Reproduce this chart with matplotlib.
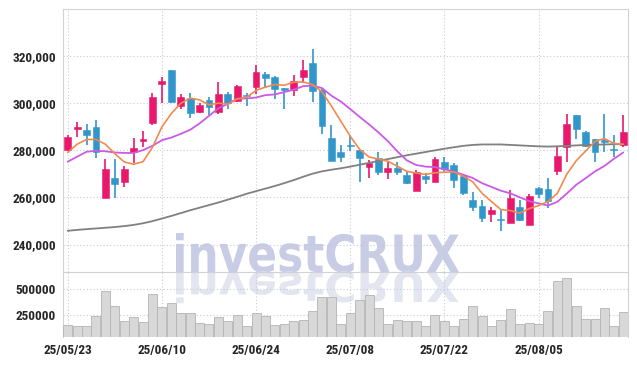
import os
import matplotlib
matplotlib.use('Agg')
import matplotlib.pyplot as plt
import numpy as np
from matplotlib.textpath import TextPath
from matplotlib.patches import PathPatch
from matplotlib.font_manager import FontProperties
from matplotlib import font_manager as fm
from matplotlib.transforms import Affine2D

# ---------------- data (prices in thousands of KRW) ----------------
dates = ["25/05/23", "25/05/26", "25/05/27", "25/05/28", "25/05/29", "25/05/30",
         "25/06/02", "25/06/04", "25/06/05", "25/06/09", "25/06/10", "25/06/11",
         "25/06/12", "25/06/13", "25/06/16", "25/06/17", "25/06/18", "25/06/19",
         "25/06/20", "25/06/23", "25/06/24", "25/06/25", "25/06/26", "25/06/27",
         "25/06/30", "25/07/01", "25/07/02", "25/07/03", "25/07/04", "25/07/07",
         "25/07/08", "25/07/09", "25/07/10", "25/07/11", "25/07/14", "25/07/15",
         "25/07/16", "25/07/17", "25/07/18", "25/07/21", "25/07/22", "25/07/23",
         "25/07/24", "25/07/25", "25/07/28", "25/07/29", "25/07/30", "25/07/31",
         "25/08/01", "25/08/04", "25/08/05", "25/08/06", "25/08/07", "25/08/08",
         "25/08/11", "25/08/12", "25/08/13", "25/08/14", "25/08/18", "25/08/19"]

opens = [280.0, 289.0, 288.4, 289.7, 259.9, 268.2, 266.6, 279.0, 283.9, 291.3,
         308.0, 313.8, 298.6, 302.2, 296.2, 301.4, 296.2, 303.9, 300.8, 303.5,
         306.7, 312.1, 310.9, 306.3, 305.6, 310.9, 316.9, 305.4, 285.2, 279.2,
         282.3, 280.0, 273.0, 276.5, 270.9, 272.3, 269.5, 262.8, 269.0, 266.6,
         275.1, 273.7, 269.2, 258.9, 256.4, 252.9, 250.6, 249.1, 255.7, 248.4,
         264.1, 263.6, 271.3, 281.4, 294.8, 287.6, 284.6, 284.2, 280.5, 282.2]
highs = [286.5, 292.0, 291.0, 292.7, 276.1, 276.1, 273.4, 285.3, 288.2, 304.3,
         311.0, 313.9, 303.9, 304.1, 300.0, 302.5, 308.8, 304.6, 307.7, 304.3,
         316.2, 313.0, 311.4, 306.5, 311.9, 318.3, 322.9, 305.8, 290.6, 282.0,
         286.0, 280.2, 275.8, 279.3, 275.1, 274.9, 270.9, 271.6, 270.2, 277.0,
         277.2, 274.4, 270.0, 262.4, 258.9, 256.1, 254.7, 263.1, 258.9, 261.3,
         264.3, 268.0, 281.6, 295.5, 294.9, 288.0, 284.8, 295.2, 286.3, 294.8]
lows = [279.5, 285.6, 282.1, 276.5, 259.6, 259.9, 264.2, 274.4, 281.4, 290.6,
        300.1, 299.8, 297.6, 293.4, 295.8, 294.8, 295.5, 297.6, 300.4, 298.6,
        303.9, 306.2, 301.5, 297.6, 302.9, 308.5, 300.4, 287.0, 275.2, 275.0,
        279.5, 266.4, 268.0, 269.5, 267.6, 269.5, 265.6, 262.6, 265.8, 266.3,
        270.5, 264.1, 261.0, 254.3, 249.5, 249.5, 245.8, 249.0, 249.8, 248.2,
        259.5, 255.4, 269.5, 275.0, 284.9, 281.5, 275.0, 279.3, 277.0, 281.2]
closes = [285.6, 289.6, 286.3, 279.0, 272.0, 265.8, 272.0, 281.1, 284.6, 302.4,
          309.1, 300.4, 302.4, 295.8, 299.0, 298.3, 303.9, 300.1, 307.0, 302.8,
          312.9, 310.5, 305.8, 305.5, 309.1, 313.8, 305.0, 290.3, 275.4, 277.2,
          281.6, 276.8, 274.7, 270.9, 272.5, 270.9, 266.2, 270.9, 267.8, 276.1,
          272.0, 267.3, 261.7, 256.1, 251.2, 254.5, 250.3, 259.9, 250.5, 260.6,
          261.4, 258.6, 277.5, 291.0, 289.0, 281.8, 279.3, 283.5, 280.3, 287.6]

# moving averages (thousands)
ma5 = [279.0, 282.5, 284.5, 284.5, 282.5, 278.5, 275.0, 274.0, 275.1, 281.2,
       289.8, 295.5, 299.8, 302.0, 301.3, 299.2, 299.9, 299.4, 301.7, 302.4,
       305.3, 306.7, 307.8, 307.5, 308.8, 308.9, 307.8, 304.7, 298.7, 292.3,
       285.9, 280.3, 277.1, 276.2, 275.3, 273.2, 271.0, 270.3, 269.7, 270.4,
       270.6, 270.8, 269.0, 266.6, 261.7, 258.2, 254.8, 254.4, 253.3, 255.2,
       256.5, 258.2, 261.7, 269.8, 275.5, 279.6, 283.7, 284.9, 282.8, 282.5]
ma10 = [275.1, 277.2, 279.3, 279.7, 279.5, 279.0, 278.8, 278.8, 280.0, 281.8,
        284.2, 285.3, 286.9, 288.6, 291.3, 294.5, 297.7, 299.6, 301.8, 301.9,
        302.3, 303.3, 303.6, 304.6, 305.6, 307.1, 307.3, 306.3, 303.1, 300.6,
        297.4, 294.1, 290.9, 287.5, 283.8, 279.5, 275.7, 273.7, 273.0, 272.8,
        271.9, 270.9, 269.6, 268.2, 266.0, 264.4, 262.8, 261.7, 260.0, 258.4,
        257.4, 256.5, 258.1, 261.6, 265.3, 268.1, 271.0, 273.3, 276.3, 279.0]
ma60 = [245.8, 246.2, 246.5, 246.8, 247.1, 247.4, 247.8, 248.3, 249.0, 249.9,
        251.0, 252.1, 253.3, 254.5, 255.6, 256.7, 257.8, 259.0, 260.2, 261.5,
        262.6, 263.7, 264.8, 266.0, 267.3, 268.7, 270.0, 271.0, 271.7, 272.3,
        273.0, 273.8, 274.6, 275.4, 276.2, 277.0, 277.8, 278.5, 279.2, 279.9,
        280.6, 281.2, 281.8, 282.2, 282.4, 282.4, 282.4, 282.2, 282.0, 281.8,
        281.6, 281.5, 281.6, 281.8, 282.0, 282.2, 282.3, 282.4, 282.5, 282.5]

# volume (thousands of shares)
volumes = [157, 144, 144, 240, 484, 337, 195, 231, 186, 455,
           330, 368, 269, 269, 176, 166, 231, 195, 253, 147,
           272, 240, 157, 166, 195, 205, 291, 426, 426, 166,
           269, 394, 445, 317, 166, 202, 192, 192, 144, 250,
           192, 144, 211, 337, 240, 144, 202, 307, 166, 176,
           166, 288, 577, 606, 337, 211, 211, 317, 144, 279]

price_ticks = [240000, 260000, 280000, 300000, 320000]
vol_ticks = [250000, 500000]
xtick_idx = [0, 10, 20, 30, 40, 50]

# ---------------- style ----------------
RED = '#e8186c'
BLUE = '#3197cb'
ORANGE = '#f08a50'
PURPLE = '#c95be6'
GRAY = '#808080'
GRID = '#c8cadc'
SPINE = '#d2d2d6'
TXT = '#262626'


def pick_label_font():
    ents = fm.fontManager.ttflist
    pref = ['liberationsansnarrow-bold', 'robotocondensed-bold', 'dejavusanscondensed-bold',
            'opensans_condensed-bold', 'opensanscondensed-bold', 'notosanscondensed-bold']
    files = {os.path.basename(e.fname).lower().rsplit('.', 1)[0]: e.fname for e in ents}
    for p in pref:
        if p in files:
            return FontProperties(fname=files[p], size=9.5)
    for e in ents:
        if e.stretch in ('condensed', 'semi-condensed') and e.weight in (700, 'bold') \
                and e.style == 'normal':
            return FontProperties(fname=e.fname, size=9.5)
    return FontProperties(family='Roboto', weight='bold', size=8.5)


LABPROP = pick_label_font()

W, H = 637, 366
fig = plt.figure(figsize=(W / 100, H / 100), dpi=100, facecolor='white')


def fx(px):
    return px / W


def fy(py):
    return 1 - py / H


ax = fig.add_axes([fx(63), fy(272), fx(628) - fx(63), fy(9) - fy(272)])
axv = fig.add_axes([fx(63), fy(337.3), fx(628) - fx(63), fy(272) - fy(337.3)], sharex=ax)
for a in (ax, axv):
    a.set_facecolor('none')

# ---------------- watermark ----------------
wm_prop = FontProperties(family='DejaVu Sans', weight='bold')
tp = TextPath((0, 0), "investCRUX", size=1, prop=wm_prop)
bb = tp.get_extents()
x0p, x1p = 176, 459
base_py, top_py = 272, 233
sx = (x1p - x0p) / bb.width
sy = (base_py - top_py) / bb.y1
main_tr = Affine2D().translate(-bb.x0, 0).scale(sx, sy).translate(x0p, H - base_py).scale(1 / W, 1 / H)
refl_tr = Affine2D().translate(-bb.x0, 0).scale(sx, -sy * 0.8).translate(x0p, H - base_py).scale(1 / W, 1 / H)
fig.add_artist(PathPatch(main_tr.transform_path(tp), facecolor='#c8cce4', edgecolor='none',
                         transform=fig.transFigure, zorder=-2))
fig.add_artist(PathPatch(refl_tr.transform_path(tp), facecolor='#e3e5f0', edgecolor='none',
                         transform=fig.transFigure, zorder=-2))

# ---------------- candles ----------------
x = np.arange(len(dates))
o = np.array(opens) * 1000
h = np.array(highs) * 1000
l = np.array(lows) * 1000
c = np.array(closes) * 1000
up = c >= o
cols = np.where(up, RED, BLUE)
ax.vlines(x, l, h, colors=cols, lw=1.2, zorder=3)
diff = np.abs(c - o)
body_h = np.maximum(diff, 500)
body_b = np.minimum(o, c) - (body_h - diff) / 2
ax.bar(x, body_h, bottom=body_b, width=0.72, color=cols, edgecolor=cols, lw=0.4, zorder=4)

ax.plot(x, np.array(ma60) * 1000, color=GRAY, lw=1.3, zorder=5, solid_capstyle='round')
ax.plot(x, np.array(ma10) * 1000, color=PURPLE, lw=1.3, zorder=5, solid_capstyle='round')
ax.plot(x, np.array(ma5) * 1000, color=ORANGE, lw=1.2, zorder=6, solid_capstyle='round')

ax.set_xlim(-0.5, len(dates) - 0.5)
ax.set_ylim(228350, 339800)
ax.set_yticks(price_ticks)
ax.set_yticklabels([f"{v:,}" for v in price_ticks])

# ---------------- volume ----------------
axv.bar(x, np.array(volumes) * 1000, width=0.95, color='#d8d8d8', edgecolor='#b4b4b4', lw=0.6, zorder=3)
axv.set_ylim(38500, 666000)
axv.set_yticks(vol_ticks)
axv.set_yticklabels([str(v) for v in vol_ticks])
axv.set_xticks(xtick_idx)
axv.set_xticklabels([dates[i] for i in xtick_idx])

# ---------------- axes styling ----------------
for a in (ax, axv):
    a.grid(True, color=GRID, ls=(0, (1, 2)), lw=0.8, zorder=1)
    a.set_axisbelow(True)
    a.tick_params(length=0, colors=TXT, pad=5)
    for lab in a.get_xticklabels() + a.get_yticklabels():
        lab.set_fontproperties(LABPROP)
    for s in a.spines.values():
        s.set_color(SPINE)
        s.set_linewidth(0.8)
ax.tick_params(labelbottom=False)
axv.spines['top'].set_visible(False)
axv.spines['bottom'].set_visible(False)
axv.tick_params(axis='x', pad=5)

fig.savefig('out.png', dpi=100, facecolor='white')
